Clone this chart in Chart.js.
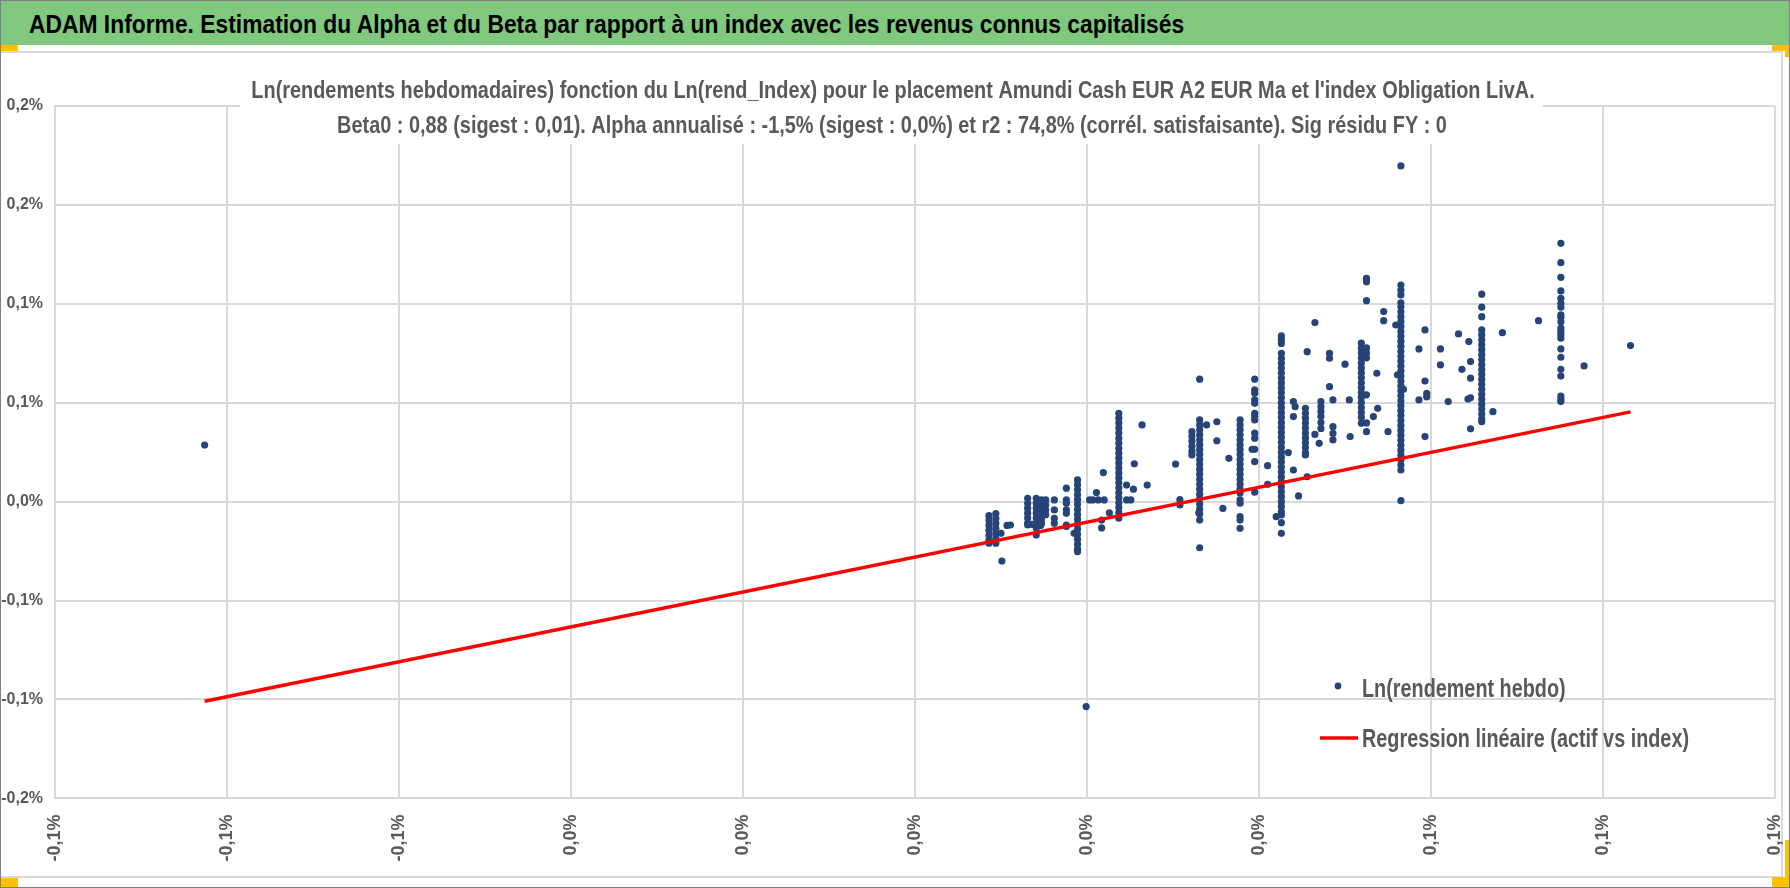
<!DOCTYPE html>
<html>
<head>
<meta charset="utf-8">
<script src="https://cdn.jsdelivr.net/npm/chart.js@4.4.1/dist/chart.umd.min.js"></script>
<style>
	body { margin: 0; width: 1790px; height: 888px; position: relative; overflow: hidden; background: #fff; }
	.abs { position: absolute; }
	#header { left: 0; top: 0; width: 1790px; height: 45px; background: #7fc87e; }
	#headerText { left: 29px; top: 10px; line-height: 1; white-space: nowrap; color: #000; font-weight: bold; font-family: 'Liberation Sans', Arial, sans-serif; transform-origin: 0 0; }
	#box { left: 0; top: 51px; width: 1781px; height: 823px; border: 2px solid #d9d9d9; border-left: none; }
	#wrap { left: 0; top: 52px; width: 1784px; height: 825px; }
	#frame { left: 0; top: 0; width: 1788px; height: 886px; border: 1px solid #808080; }
	.handle { background: #ffc000; }
</style>
</head>
<body>
<div id="header" class="abs"></div>
<div id="headerText" class="abs"></div>
<div id="box" class="abs"></div>
<div id="wrap" class="abs"><canvas id="scatter"></canvas></div>
<div class="abs handle" style="left:0;top:45px;width:18px;height:6px"></div>
<div class="abs handle" style="left:1772px;top:45px;width:18px;height:6px"></div>
<div class="abs handle" style="left:1785px;top:45px;width:5px;height:12px"></div>
<div class="abs handle" style="left:0;top:878px;width:18px;height:10px"></div>
<div class="abs handle" style="left:1772px;top:877px;width:18px;height:11px"></div>
<div class="abs handle" style="left:1785px;top:840px;width:5px;height:48px"></div>
<div id="frame" class="abs"></div>
<script>
	// texts
	var headerText = "ADAM Informe. Estimation du Alpha et du Beta par rapport à un index avec les revenus connus capitalisés";
	var titleLines = [
		"Ln(rendements hebdomadaires) fonction du Ln(rend_Index) pour le placement Amundi Cash EUR A2 EUR Ma et l'index Obligation LivA.",
		"Beta0 : 0,88 (sigest : 0,01). Alpha annualisé : -1,5% (sigest : 0,0%) et r2 : 74,8% (corrél. satisfaisante). Sig résidu FY : 0"
	];
	var legendLabels = ["Ln(rendement hebdo)", "Regression linéaire (actif vs index)"];

	// axis ticks (values in %)
	var xTickValues = [-0.1, -0.08, -0.06, -0.04, -0.02, 0, 0.02, 0.04, 0.06, 0.08, 0.1];
	var xTickLabels = ["-0,1%", "-0,1%", "-0,1%", "0,0%", "0,0%", "0,0%", "0,0%", "0,0%", "0,1%", "0,1%", "0,1%"];
	var yTickValues = [-0.15, -0.1, -0.05, 0, 0.05, 0.1, 0.15, 0.2];
	var yTickLabels = ["-0,2%", "-0,1%", "-0,1%", "0,0%", "0,1%", "0,1%", "0,2%", "0,2%"];

	// weekly log returns of the index (x) and of the fund (y), in %
	var indexReturns = [
		-0.0826, 0.0199,
		0.0086, 0.0086, 0.0086, 0.0086, 0.0086, 0.0086, 0.0086,
		0.0094, 0.0094, 0.0094, 0.0094, 0.0094, 0.0094, 0.0094,
		0.0101, 0.0100, 0.0107, 0.0111,
		0.0131, 0.0131, 0.0131, 0.0131, 0.0131, 0.0131, 0.0131,
		0.0141, 0.0141, 0.0141, 0.0141, 0.0141, 0.0141, 0.0141, 0.0141,
		0.0136, 0.0146,
		0.0147, 0.0147, 0.0147, 0.0147, 0.0147, 0.0147,
		0.0152, 0.0152, 0.0152, 0.0152,
		0.0162, 0.0162, 0.0162, 0.0162,
		0.0176, 0.0176, 0.0176, 0.0176, 0.0176, 0.0176, 0.0176,
		0.0189, 0.0189, 0.0189, 0.0189, 0.0189, 0.0189, 0.0189, 0.0189, 0.0189, 0.0189, 0.0189, 0.0189, 0.0189, 0.0189, 0.0189, 0.0189,
		0.0185, 0.0203, 0.0207, 0.0213, 0.0220, 0.0211, 0.0219, 0.0217, 0.0217, 0.0226,
		0.0237, 0.0237, 0.0237, 0.0237, 0.0237, 0.0237, 0.0237, 0.0237, 0.0237, 0.0237, 0.0237, 0.0237, 0.0237, 0.0237, 0.0237, 0.0237, 0.0237, 0.0237, 0.0237, 0.0237, 0.0237, 0.0237,
		0.0246, 0.0246, 0.0251, 0.0254, 0.0255, 0.0264, 0.0270, 0.0303, 0.0308, 0.0308,
		0.0322, 0.0322, 0.0322, 0.0322, 0.0322, 0.0322,
		0.0331, 0.0331, 0.0331, 0.0331, 0.0331, 0.0331, 0.0331, 0.0331, 0.0331, 0.0331, 0.0331, 0.0331, 0.0331, 0.0331, 0.0331, 0.0331, 0.0331, 0.0331, 0.0331, 0.0331, 0.0331, 0.0331, 0.0331,
		0.0330, 0.0339, 0.0351, 0.0351, 0.0358, 0.0365,
		0.0378, 0.0378, 0.0378, 0.0378, 0.0378, 0.0378, 0.0378, 0.0378, 0.0378, 0.0378, 0.0378, 0.0378, 0.0378, 0.0378, 0.0378, 0.0378, 0.0378, 0.0378, 0.0378, 0.0378, 0.0378,
		0.0392,
		0.0395, 0.0395, 0.0395, 0.0395, 0.0395, 0.0395, 0.0395, 0.0395, 0.0395, 0.0395, 0.0395, 0.0395, 0.0395,
		0.0410, 0.0410, 0.0420,
		0.0426, 0.0426, 0.0426, 0.0426, 0.0426, 0.0426, 0.0426, 0.0426, 0.0426, 0.0426,
		0.0426, 0.0426, 0.0426, 0.0426, 0.0426, 0.0426, 0.0426, 0.0426, 0.0426, 0.0426,
		0.0426, 0.0426, 0.0426, 0.0426, 0.0426, 0.0426, 0.0426, 0.0426, 0.0426, 0.0426,
		0.0426, 0.0426, 0.0426, 0.0426, 0.0426, 0.0426, 0.0426, 0.0426, 0.0426,
		0.0434, 0.0440, 0.0440, 0.0442, 0.0440, 0.0446,
		0.0454, 0.0454, 0.0454, 0.0454, 0.0454, 0.0454, 0.0454, 0.0454, 0.0454, 0.0454, 0.0454,
		0.0456, 0.0456, 0.0465,
		0.0472, 0.0472, 0.0472, 0.0472, 0.0472, 0.0472,
		0.0465, 0.0470, 0.0482, 0.0482, 0.0482, 0.0486, 0.0486, 0.0486, 0.0486, 0.0500, 0.0505, 0.0506,
		0.0519, 0.0519, 0.0519, 0.0519, 0.0519, 0.0519, 0.0519, 0.0519, 0.0519, 0.0519, 0.0519, 0.0519, 0.0519, 0.0519, 0.0519, 0.0519, 0.0519,
		0.0525, 0.0525, 0.0525, 0.0525, 0.0525, 0.0525, 0.0525, 0.0525, 0.0525,
		0.0533, 0.0537, 0.0538, 0.0545, 0.0545, 0.0550, 0.0559, 0.0561,
		0.0565, 0.0565, 0.0565, 0.0565, 0.0565, 0.0565, 0.0565, 0.0565, 0.0565, 0.0565,
		0.0565, 0.0565, 0.0565, 0.0565, 0.0565, 0.0565, 0.0565, 0.0565, 0.0565, 0.0565,
		0.0565, 0.0565, 0.0565, 0.0565, 0.0565, 0.0565, 0.0565, 0.0565, 0.0565, 0.0565,
		0.0565, 0.0565, 0.0565, 0.0565, 0.0565, 0.0565, 0.0565, 0.0565, 0.0565, 0.0565,
		0.0568, 0.0586, 0.0586, 0.0593, 0.0593, 0.0595, 0.0595, 0.0593, 0.0611, 0.0611, 0.0620, 0.0632, 0.0636, 0.0644, 0.0646, 0.0646, 0.0643, 0.0646, 0.0646,
		0.0659, 0.0659, 0.0659, 0.0659, 0.0659, 0.0659, 0.0659, 0.0659, 0.0659, 0.0659, 0.0659, 0.0659, 0.0659, 0.0659, 0.0659, 0.0659, 0.0659, 0.0659, 0.0659, 0.0659, 0.0659, 0.0659, 0.0659,
		0.0672, 0.0683, 0.0725,
		0.0751, 0.0751, 0.0751, 0.0751, 0.0751, 0.0751, 0.0751, 0.0751, 0.0751, 0.0751, 0.0751, 0.0751, 0.0751, 0.0751, 0.0751, 0.0751, 0.0751, 0.0751, 0.0751, 0.0751, 0.0751,
		0.0778, 0.0832
	];
	var fundReturns = [
		0.0286, -0.1036,
		-0.007, -0.0095, -0.012, -0.0145, -0.017, -0.0195, -0.021,
		-0.006, -0.0085, -0.011, -0.0135, -0.016, -0.0185, -0.021,
		-0.030, -0.016, -0.012, -0.0118,
		0.0017, -0.0008, -0.0033, -0.0058, -0.0083, -0.0108, -0.0118,
		0.0017, -0.0008, -0.0033, -0.0058, -0.0083, -0.0108, -0.0133, -0.0168,
		-0.0115, -0.012,
		0.0009, -0.0016, -0.0041, -0.0066, -0.0091, -0.0111,
		0.0009, -0.0016, -0.0041, -0.0066,
		0.0009, -0.0042, -0.0084, -0.0109,
		0.0068, 0.0009, -0.0008, -0.0042, -0.0059, -0.0118, -0.0126,
		0.011, 0.0085, 0.006, 0.0035, 0.001, -0.0015, -0.004, -0.0065, -0.009, -0.0115, -0.014, -0.0165, -0.019, -0.0215, -0.024, -0.0253,
		-0.016, 0.0009, 0.0009, 0.0009, 0.0009, 0.0046, 0.0147, -0.0093, -0.0133, -0.0056,
		0.0447, 0.0422, 0.0397, 0.0372, 0.0347, 0.032, 0.0295, 0.027, 0.0245, 0.022, 0.0195, 0.017, 0.0145, 0.012, 0.0095, 0.007, 0.0045, 0.002, -0.0005, -0.003, -0.0055, -0.0084,
		0.0084, 0.0009, 0.0009, 0.0063, 0.0191, 0.0388, 0.0084, 0.019, 0.001, -0.0017,
		0.0354, 0.033, 0.0305, 0.028, 0.0255, 0.0236,
		0.0619, 0.0413, 0.0388, 0.0363, 0.0338, 0.0313, 0.0288, 0.0263, 0.0238, 0.0213, 0.0188, 0.0163, 0.0138, 0.0113, 0.0088, 0.0063, 0.0038, 0.0013, -0.0012, -0.0037, -0.0062, -0.0093, -0.0233,
		-0.0056, 0.0388, 0.0404, 0.0308, -0.0034, 0.0219,
		0.0413, 0.0388, 0.0363, 0.0338, 0.0313, 0.0288, 0.0263, 0.0238, 0.0213, 0.0188, 0.0163, 0.0138, 0.0113, 0.0088, 0.0063, 0.0044, 0.0009, -0.0008, -0.0076, -0.0093, -0.0135,
		0.0265,
		0.0619, 0.0565, 0.0548, 0.0514, 0.0497, 0.0447, 0.043, 0.0413, 0.0346, 0.0321, 0.0265, 0.0202, 0.0048,
		0.0182, 0.0088, -0.0076,
		0.0838, 0.082, 0.080, 0.075, 0.0725, 0.07, 0.0675, 0.065, 0.0625, 0.06,
		0.0575, 0.055, 0.0525, 0.05, 0.0475, 0.045, 0.0425, 0.04, 0.0375, 0.035,
		0.0325, 0.03, 0.0275, 0.025, 0.0225, 0.02, 0.0175, 0.015, 0.0125, 0.01,
		0.0075, 0.005, 0.0025, 0.0, -0.0025, -0.005, -0.0067, -0.0106, -0.016,
		0.0248, 0.0506, 0.043, 0.048, 0.016, 0.0029,
		0.0472, 0.0447, 0.0422, 0.0397, 0.0372, 0.0347, 0.0322, 0.0297, 0.0272, 0.0247, 0.0236,
		0.0758, 0.0126, 0.0905,
		0.0506, 0.048, 0.0455, 0.043, 0.04, 0.037,
		0.034, 0.0295, 0.075, 0.0725, 0.0581, 0.0514, 0.0379, 0.0345, 0.0312, 0.0695, 0.0514, 0.0329,
		0.0801, 0.0776, 0.0751, 0.0726, 0.0701, 0.0676, 0.0651, 0.0626, 0.0601, 0.0576, 0.0551, 0.0526, 0.0501, 0.0476, 0.0451, 0.0426, 0.0396,
		0.1129, 0.1112, 0.1016, 0.0777, 0.0752, 0.0727, 0.054, 0.0398, 0.0354,
		0.043, 0.0649, 0.0472, 0.0961, 0.0915, 0.0354, 0.0893, 0.0641,
		0.1697, 0.1095, 0.107, 0.1045, 0.1005, 0.0985, 0.096, 0.0935, 0.091, 0.0885,
		0.086, 0.0835, 0.081, 0.0785, 0.076, 0.0735, 0.071, 0.0685, 0.066, 0.0635,
		0.061, 0.0585, 0.056, 0.0535, 0.051, 0.0485, 0.046, 0.0435, 0.041, 0.0385,
		0.036, 0.0335, 0.031, 0.0285, 0.026, 0.0235, 0.021, 0.0185, 0.016, 0.0005,
		0.0568, 0.0772, 0.0514, 0.0868, 0.061, 0.0548, 0.053, 0.0329, 0.0772, 0.0691, 0.0506, 0.0848, 0.0669, 0.0809, 0.0708, 0.0624, 0.0519, 0.0525, 0.0368,
		0.1049, 0.0983, 0.0935, 0.0868, 0.0843, 0.0818, 0.0793, 0.0768, 0.0743, 0.0718, 0.0693, 0.0668, 0.0643, 0.0618, 0.0593, 0.0568, 0.0543, 0.0518, 0.0493, 0.0468, 0.0443, 0.0418, 0.0404,
		0.0455, 0.0854, 0.0915,
		0.1306, 0.1208, 0.1134, 0.1065, 0.1028, 0.1003, 0.0983, 0.0944, 0.0932, 0.091, 0.0877, 0.086, 0.0843, 0.0826, 0.0772, 0.073, 0.0669, 0.0635, 0.0534, 0.0518, 0.0506,
		0.0686, 0.0789
	];

	// regression line end points (x in %, y in %)
	var regIndex = [-0.0826, 0.0832];
	var regFund = [-0.1009, 0.0454];

	if (indexReturns.length != fundReturns.length)
		console.error("point arrays differ: " + indexReturns.length + " / " + fundReturns.length);

	var family = "'Liberation Sans', Arial, sans-serif";
	var grey = '#595959';

	// horizontal squeeze so a bold text of this size gets the width seen on the picture
	function squeeze(text, size, width)
	{
		var c = document.createElement('canvas').getContext('2d');
		c.font = 'bold ' + size + 'px ' + family;
		return width / c.measureText(text).width;
	}

	function drawSqueezed(c, text, x, y, k, align)
	{
		c.save();
		c.translate(x, y);
		c.scale(k, 1);
		c.textAlign = align;
		c.fillText(text, 0, 0);
		c.restore();
	}

	var headerSize = 26;
	var titleSize = 24;
	var legendSize = 25;
	var titleK = (squeeze(titleLines[0], titleSize, 1290) + squeeze(titleLines[1], titleSize, 1104)) / 2;
	var legendK = squeeze(legendLabels[1], legendSize, 327);

	var head = document.getElementById('headerText');
	head.textContent = headerText;
	head.style.fontSize = headerSize + 'px';
	head.style.top = (33.3 - 0.8465 * headerSize) + 'px';
	head.style.transform = 'scaleX(' + squeeze(headerText, headerSize, 1156) + ')';

	var chartText =
	{
		id: 'chartText',
		beforeDatasetsDraw: function(chart)
		{
			var c = chart.ctx;
			c.save();
			c.fillStyle = '#fff';
			c.fillRect(240, 8, 1303, 84);
			c.fillStyle = grey;
			c.font = 'bold ' + titleSize + 'px ' + family;
			c.textBaseline = 'alphabetic';
			drawSqueezed(c, titleLines[0], 893, 46.3, titleK, 'center');
			drawSqueezed(c, titleLines[1], 892, 81.3, titleK, 'center');
			c.restore();
		},
		afterDatasetsDraw: function(chart)
		{
			var c = chart.ctx;
			c.save();
			c.fillStyle = '#264478';
			c.beginPath();
			c.arc(1338, 634, 3.4, 0, Math.PI * 2);
			c.fill();
			c.strokeStyle = '#ff0000';
			c.lineWidth = 3.5;
			c.beginPath();
			c.moveTo(1320, 686);
			c.lineTo(1358, 686);
			c.stroke();
			c.fillStyle = grey;
			c.font = 'bold ' + legendSize + 'px ' + family;
			c.textBaseline = 'alphabetic';
			drawSqueezed(c, legendLabels[0], 1362, 644.7, legendK, 'left');
			drawSqueezed(c, legendLabels[1], 1362, 695, legendK, 'left');
			c.restore();
		}
	};

	window.onload = () =>
	{
		var ctx = document.getElementById('scatter').getContext('2d');
		var points = indexReturns.map(function(x, i) { return { x: x, y: fundReturns[i] }; });
		var regLine = regIndex.map(function(x, i) { return { x: x, y: regFund[i] }; });
		var chartConfig =
		{
			type: 'scatter',
			data:
			{
				datasets: [
				{
					type: 'line',
					label: legendLabels[1],
					data: regLine,
					borderColor: '#ff0000',
					borderWidth: 3.5,
					pointRadius: 0,
					fill: false,
					order: 0
				},
				{
					label: legendLabels[0],
					data: points,
					backgroundColor: '#264478',
					borderWidth: 0,
					pointRadius: 3.6,
					order: 1
				}]
			},
			options:
			{
				responsive: true,
				maintainAspectRatio: false,
				animation: false,
				events: [],
				layout: { padding: { top: 54, right: 9, left: 0, bottom: 0 } },
				plugins:
				{
					legend: { display: false },
					title: { display: false },
					tooltip: { enabled: false }
				},
				scales:
				{
					x:
					{
						type: 'linear',
						min: -0.1,
						max: 0.1,
						afterBuildTicks: function(s) { s.ticks = xTickValues.map(function(v) { return { value: v }; }); },
						afterFit: function(s) { s.height = 78.6; s.paddingLeft = 0; s.paddingRight = 0; },
						grid: { color: '#d9d9d9', lineWidth: 2, drawTicks: false },
						border: { color: '#d9d9d9', width: 2 },
						ticks:
						{
							minRotation: 90,
							maxRotation: 90,
							padding: 16,
							color: grey,
							font: { family: family, weight: 'bold', size: 18 },
							callback: function(v, i) { return xTickLabels[i]; }
						}
					},
					y:
					{
						type: 'linear',
						min: -0.15,
						max: 0.2,
						afterBuildTicks: function(s) { s.ticks = yTickValues.map(function(v) { return { value: v }; }); },
						afterFit: function(s) { s.width = 55; s.paddingTop = 0; s.paddingBottom = 0; },
						grid: { color: '#d9d9d9', lineWidth: 2, drawTicks: false },
						border: { color: '#d9d9d9', width: 2 },
						ticks:
						{
							padding: 12,
							color: grey,
							font: { family: family, weight: 'bold', size: 16 },
							callback: function(v, i) { return yTickLabels[i]; }
						}
					}
				}
			},
			plugins: [chartText]
		};
		var chart = new Chart(ctx, chartConfig);
	};
</script>
</body>
</html>
